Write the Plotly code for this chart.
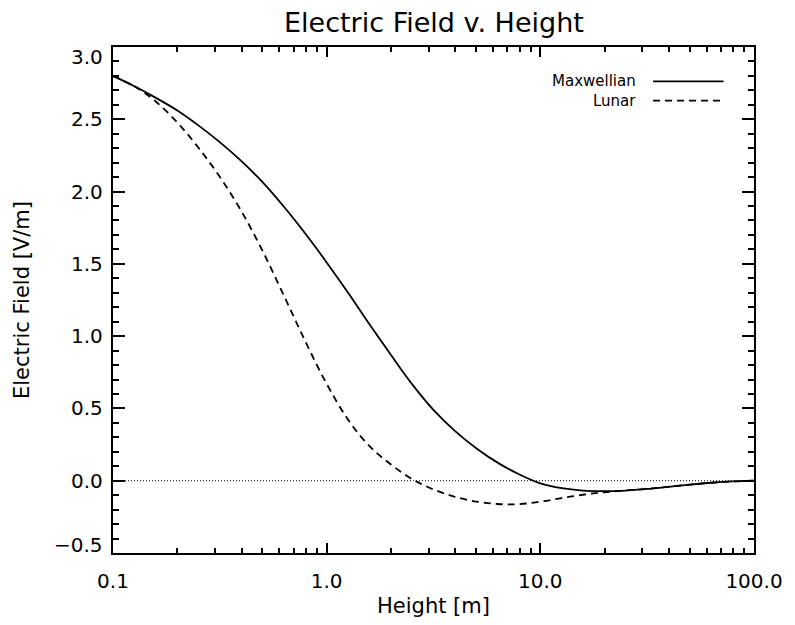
import plotly.graph_objects as go

# ---- data (heights in m, field in V/m) ----
height = [0.1, 0.126, 0.158, 0.2, 0.251, 0.316, 0.398, 0.501, 0.631, 0.794,
          1.0, 1.26, 1.58, 2.0, 2.51, 3.16, 3.98, 5.01, 6.31, 7.94,
          10.0, 12.6, 15.8, 20.0, 25.1, 31.6, 39.8, 50.1, 63.1, 79.4, 100.0]

maxwellian = [2.800, 2.728, 2.650, 2.561, 2.458, 2.342, 2.212, 2.065, 1.895, 1.710,
              1.510, 1.300, 1.085, 0.870, 0.668, 0.490, 0.345, 0.225, 0.125, 0.045,
              -0.018, -0.052, -0.068, -0.072, -0.068, -0.057, -0.042, -0.027, -0.014, -0.005, 0.0]

lunar = [2.800, 2.728, 2.625, 2.478, 2.304, 2.102, 1.867, 1.590, 1.280, 0.965,
         0.670, 0.422, 0.242, 0.112, 0.012, -0.060, -0.111, -0.144, -0.161, -0.162,
         -0.145, -0.120, -0.097, -0.080, -0.068, -0.057, -0.042, -0.027, -0.014, -0.005, 0.0]

zero_x = [0.1, 100.0]
zero_y = [0.0, 0.0]

x_tickvals = [0.1, 1.0, 10.0, 100.0]
x_ticktext = ["0.1", "1.0", "10.0", "100.0"]
x_minor = [0.2, 0.3, 0.4, 0.5, 0.6, 0.7, 0.8, 0.9,
           2, 3, 4, 5, 6, 7, 8, 9, 20, 30, 40, 50, 60, 70, 80, 90]
y_tickvals = [-0.5, 0.0, 0.5, 1.0, 1.5, 2.0, 2.5, 3.0]
y_ticktext = ["\u22120.5", "0.0", "0.5", "1.0", "1.5", "2.0", "2.5", "3.0"]

series_names = ["Maxwellian", "Lunar"]
title_text = "Electric Field v. Height"
x_title = "Height [m]"
y_title = "Electric Field [V/m]"

FONT = "DejaVu Sans"
TICK_SIZE = 20
AXT_SIZE = 21

fig = go.Figure()
fig.add_trace(go.Scatter(x=zero_x, y=zero_y, mode="lines",
                         line=dict(color="black", width=1, dash="1px,2px"),
                         showlegend=False, hoverinfo="skip"))
fig.add_trace(go.Scatter(x=height, y=lunar, mode="lines", name=series_names[1],
                         line=dict(color="black", width=1.8, dash="7px,5px", shape="spline"),
                         showlegend=False))
fig.add_trace(go.Scatter(x=height, y=maxwellian, mode="lines", name=series_names[0],
                         line=dict(color="black", width=1.8, shape="spline"),
                         showlegend=False))

fig.update_xaxes(type="log", range=[-1, 2], tickvals=x_tickvals, ticktext=x_ticktext,
                 ticks="inside", ticklen=10, tickwidth=1.5, tickcolor="black",
                 showline=True, linecolor="black", linewidth=2, mirror="allticks",
                 showgrid=False, zeroline=False,
                 minor=dict(tickvals=x_minor, ticks="inside", ticklen=5, tickwidth=1.5,
                            tickcolor="black", showgrid=False),
                 tickfont=dict(family=FONT, size=TICK_SIZE, color="black"),
                 ticklabelstandoff=9)
fig.update_yaxes(range=[-0.5, 3.0], tickvals=y_tickvals, showticklabels=False,
                 ticks="inside", ticklen=12, tickwidth=1.5, tickcolor="black",
                 showline=True, linecolor="black", linewidth=2, mirror="allticks",
                 showgrid=False, zeroline=False,
                 minor=dict(dtick=0.1, ticks="inside", ticklen=6, tickwidth=1.5,
                            tickcolor="black", showgrid=False))

annotations = []
for v, t in zip(y_tickvals, y_ticktext):
    shift = 0
    if v == y_tickvals[-1]:
        shift = -10
    elif v == y_tickvals[0]:
        shift = 8
    annotations.append(dict(x=0, xref="paper", y=v, yref="y", text=t, showarrow=False,
                            xanchor="right", yanchor="middle", xshift=-8, yshift=shift,
                            font=dict(family=FONT, size=TICK_SIZE, color="black")))

annotations += [
    dict(x=0.5, xref="paper", y=1, yref="paper", yshift=25, text=title_text,
         showarrow=False, xanchor="center", yanchor="middle",
         font=dict(family=FONT, size=27, color="black")),
    dict(x=0.5, xref="paper", y=0, yref="paper", yshift=-53, text=x_title,
         showarrow=False, xanchor="center", yanchor="middle",
         font=dict(family=FONT, size=AXT_SIZE, color="black")),
    dict(x=0, xref="paper", y=0.5, yref="paper", xshift=-91, text=y_title,
         textangle=-90, showarrow=False, xanchor="center", yanchor="middle",
         font=dict(family=FONT, size=AXT_SIZE, color="black")),
    dict(x=0.819, xref="paper", y=0.932, yref="paper", text=series_names[0],
         showarrow=False, xanchor="right", yanchor="middle",
         font=dict(family=FONT, size=15, color="black")),
    dict(x=0.819, xref="paper", y=0.894, yref="paper", text=series_names[1],
         showarrow=False, xanchor="right", yanchor="middle",
         font=dict(family=FONT, size=15, color="black")),
]

shapes = [
    dict(type="line", xref="paper", yref="paper", x0=0.8425, x1=0.9525, y0=0.932, y1=0.932,
         line=dict(color="black", width=1.8)),
    dict(type="line", xref="paper", yref="paper", x0=0.8425, x1=0.9525, y0=0.894, y1=0.894,
         line=dict(color="black", width=1.8, dash="7px,5px")),
]

fig.update_layout(width=795, height=625, autosize=False,
                  margin=dict(l=113, r=36, t=47, b=72),
                  paper_bgcolor="white", plot_bgcolor="white",
                  annotations=annotations, shapes=shapes, showlegend=False)

fig.write_html("out.html")
